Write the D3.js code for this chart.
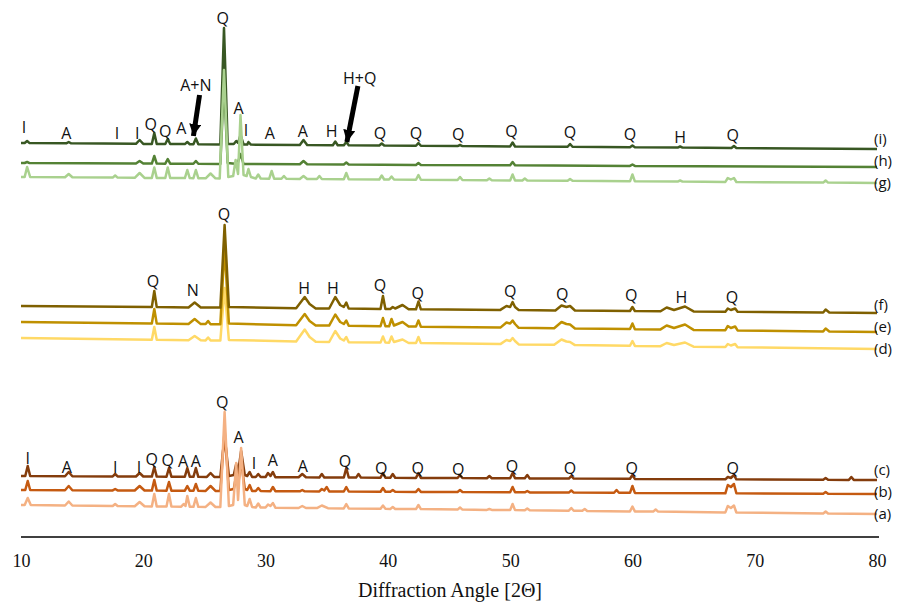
<!DOCTYPE html>
<html>
<head>
<meta charset="utf-8">
<script src="https://cdn.jsdelivr.net/npm/d3@7/dist/d3.min.js"></script>
<style>
  body { margin: 0; background: #fff; }
  .peak-label { font-family: "Open Sans", sans-serif; font-size: 16px; fill: #111; }
  .trace-label { font-family: "Open Sans", sans-serif; font-size: 15px; fill: #111; }
  .axis text { font-family: "Liberation Serif", "Times New Roman", serif; font-size: 18px; fill: #111; }
  .axis-title { font-family: "Liberation Serif", "Times New Roman", serif; font-size: 20px; fill: #111; }
  .xrd-line { fill: none; stroke-width: 2.5; stroke-linejoin: round; }
</style>
</head>
<body>
<svg class="chart"></svg>
<script>
// XRD patterns, [2-theta, intensity above own baseline]
const traceA = [[10,0],[10.3,0],[10.55,7],[10.8,-0.1],[13.6,-0.5],[13.9,3.5],[14.2,-0.5],[17.5,-1],[17.7,1],[17.9,-1],
  [19.3,-1.2],[19.7,3],[20.1,-1.3],[20.7,-1.4],[20.9,11],[21.1,-1.4],[21.9,-1.5],[22.1,11],[22.3,-1.6],
  [23.1,-1.7],[23.3,1],[23.45,-1],[23.6,9],[23.8,-1.7],[24.1,-1.8],[24.3,7],[24.5,-1.8],[25.1,-1.9],[25.5,2.5],[25.9,-2],
  [26.3,-2],[26.65,93],[27.0,-1],[27.35,0],[27.6,42],[27.75,5],[28.0,57],[28.3,0],[28.5,-1],[28.7,6],[28.9,-2],
  [29.2,-2.5],[29.4,1.5],[29.6,-2.5],[30,-2.6],[30.2,0.5],[30.4,-1],[30.6,2],[30.8,-2.7],[32.7,-3],[33,-1],[33.3,-3],
  [34.2,-3.1],[34.6,-0.5],[35.1,-3.2],[36.4,-3.4],[36.6,1],[36.8,-3.4],[39.4,-3.8],[39.6,-0.5],[39.8,-3.8],
  [40.2,-3.9],[40.4,-2],[40.6,-3.9],[42.3,-4.1],[42.5,0],[42.7,-4.1],[45.7,-4.6],[45.9,-2.5],[46.1,-4.6],
  [48.1,-4.9],[48.3,-4],[48.5,-4.9],[50,-5.1],[50.2,1],[50.4,-5.1],[51.2,-5.3],[51.4,-3.5],[51.6,-5.3],
  [54.8,-5.7],[55,-3],[55.2,-5.8],[55.9,-5.8],[56.1,-4],[56.3,-5.9],[59.8,-6.4],[60,-1.5],[60.2,-6.4],
  [61.7,-6.6],[61.9,-4.5],[62.1,-6.6],[67.6,-7.4],[67.8,-1],[68.05,-3],[68.3,-0.5],[68.5,-7.5],
  [75.6,-8.4],[75.8,-6.5],[76,-8.5],[80,-9]];

const traceB = [[10,0],[10.35,0],[10.55,9],[10.75,0],[13.6,-0.2],[13.9,4],[14.2,-0.2],[17.5,-0.4],[17.7,1],[17.9,-0.4],
  [19.3,-0.5],[19.7,4],[20.1,-0.5],[20.7,-0.6],[20.9,10],[21.1,-0.6],[21.9,-0.7],[22.1,8],[22.3,-0.7],
  [23.4,-0.7],[23.6,4],[23.8,-0.7],[24.1,-0.8],[24.3,6],[24.5,-0.8],[25.1,-0.9],[25.5,4],[25.9,-0.9],
  [26.3,-0.9],[26.65,60],[27.0,0],[27.4,1],[27.6,15],[27.75,4],[28.0,30],[28.3,1],[28.5,0],[28.7,5],[28.9,-1],
  [29.2,-1],[29.4,2],[29.6,-1],[30.4,-1.2],[30.6,3],[30.8,-1.2],[32.8,-1.3],[33,0],[33.2,-1.3],
  [34.4,-1.4],[34.6,1],[34.8,-0.5],[35,3],[35.2,-1.4],[36.4,-1.5],[36.6,3],[36.8,-1.5],[39.4,-1.7],[39.6,2],[39.8,-1.7],
  [40.2,-1.7],[40.4,0],[40.6,-1.7],[42.3,-1.9],[42.5,1],[42.7,-1.9],[45.7,-2],[45.9,0],[46.1,-2],
  [50,-2.3],[50.2,3],[50.4,-2.3],[51.2,-2.3],[51.4,-1],[51.6,-2.4],[54.8,-2.6],[55,-0.5],[55.2,-2.6],
  [58.5,-2.8],[58.7,0],[58.9,-2.8],[59.8,-2.8],[60,4],[60.2,-2.9],[67.6,-3.3],[67.8,5],[68.05,3],[68.3,6],[68.5,-3.3],
  [75.6,-3.7],[75.8,-2],[76,-3.7],[80,-4]];

const traceC = [[10,0],[10.35,0],[10.55,10],[10.75,0],[13.6,-0.2],[13.9,4],[14.2,-0.2],[17.5,-0.4],[17.7,2],[17.9,-0.4],
  [19.4,-0.5],[19.7,3],[20,-0.5],[20.7,-0.6],[20.9,9],[21.1,-0.6],[21.9,-0.7],[22.1,8],[22.3,-0.7],
  [23.4,-0.7],[23.6,8],[23.8,-0.7],[24.1,-0.8],[24.3,8],[24.5,-0.8],[25.2,-0.9],[25.5,3],[25.8,-0.9],
  [26.3,-0.9],[26.65,40],[27.0,0],[27.4,1],[27.6,12],[27.75,3],[28.0,25],[28.3,1],[28.5,0],[28.7,4],[28.9,-1],
  [29.2,-1],[29.4,2],[29.6,-1],[30,-1],[30.2,3],[30.4,0],[30.6,4],[30.8,-1.2],[32.7,-1.3],[33,2],[33.3,-1.3],
  [34.4,-1.4],[34.6,2],[34.8,-1.4],[36.4,-1.5],[36.6,8],[36.8,-1.5],[37.4,-1.6],[37.6,2],[37.8,-1.6],
  [39.4,-1.7],[39.6,3],[39.8,-1.7],[40.2,-1.7],[40.4,2],[40.6,-1.7],[42.3,-1.9],[42.5,3],[42.7,-1.9],
  [45.7,-2],[45.9,1],[46.1,-2],[48.1,-2.2],[48.3,0],[48.5,-2.2],[50,-2.3],[50.2,3],[50.4,-2.3],
  [51.2,-2.3],[51.4,1],[51.6,-2.4],[54.8,-2.6],[55,0],[55.2,-2.6],[59.8,-2.8],[60,1],[60.2,-2.9],
  [67.6,-3.3],[67.8,-1],[68.05,-2],[68.3,1],[68.5,-3.3],[75.6,-3.7],[75.8,-2],[76,-3.7],
  [77.7,-3.9],[77.9,-1],[78.1,-3.9],[80,-4]];

const traceD = [[10,0],[20.7,-1.7],[20.9,11],[21.1,-1.7],[23.7,-2.2],[24.2,2],[24.7,-2.3],[25.1,-2.4],[25.3,0.5],[25.5,-2.4],
  [26.3,-2.6],[26.65,50],[27.0,-2],[32.5,-3.5],[33.2,8.5],[33.6,1],[34.1,-3.8],
  [35.2,-4],[35.7,7],[36.1,-0.5],[36.4,-2.5],[36.6,1],[36.8,-4.2],[39.4,-4.6],[39.6,1.5],[39.8,-4.6],
  [40.1,-4.7],[40.3,1.5],[40.5,-4],[41.2,-1.5],[41.7,-5],[42.3,-5.1],[42.5,1],[42.7,-5.1],
  [49.2,-6.1],[49.7,-2],[50,-3],[50.2,0],[50.4,-3],[50.7,-6.4],[53.6,-6.8],[54.2,-1.5],[54.6,-3.5],[54.9,-4],[55.3,-7.1],
  [59.8,-7.8],[60,-3],[60.2,-7.9],[62.3,-8.2],[62.8,-5],[63.4,-7],[64.3,-4.5],[65,-8.7],
  [67.6,-9],[67.8,-6],[68.05,-7.5],[68.4,-6],[68.6,-9.2],[80,-11]];

const traceE = [[10,0],[20.7,-1.5],[20.9,13],[21.1,-1.6],[23.7,-2],[24.2,3],[24.7,-2.1],[25.1,-2.1],[25.3,1],[25.5,-2.2],
  [26.3,-2.3],[26.65,75],[27.0,-1.5],[32.5,-3.2],[33.2,8],[33.6,1],[34.1,-3.4],
  [35.2,-3.6],[35.7,7.5],[36.1,0],[36.4,-2],[36.6,1.5],[36.8,-3.8],[39.4,-4.2],[39.6,4],[39.8,-4.2],
  [40.1,-4.3],[40.3,3],[40.5,-3.5],[41.2,0],[41.7,-4.5],[42.3,-4.6],[42.5,1.5],[42.7,-4.7],
  [49.2,-5.6],[49.7,-0.5],[50,-1.5],[50.2,1.5],[50.4,-2],[50.7,-5.8],[53.6,-6.2],[54.2,0],[54.6,-2],[54.9,-2.5],[55.3,-6.5],
  [59.8,-7.1],[60,-1.5],[60.2,-7.2],[62.3,-7.4],[62.8,-3.5],[63.4,-6],[64.3,-2.5],[65,-7.9],
  [67.6,-8.2],[67.8,-4],[68.05,-6],[68.4,-4.5],[68.6,-8.4],[75.6,-9.4],[75.8,-6.5],[76.1,-9.4],[80,-10]];

const traceF = [[10,0],[20.7,-1],[20.9,15],[21.1,-1.1],[23.7,-1.4],[24.2,3.5],[24.7,-1.5],
  [26.3,-1.6],[26.65,81],[27.0,-1],[32.5,-2.2],[33.2,9],[33.6,2],[34.1,-2.4],
  [35.2,-2.5],[35.7,9],[36.1,1],[36.4,-1],[36.6,3.5],[36.8,-2.6],[39.4,-2.9],[39.6,10],[39.8,-3],
  [40.2,-3],[40.4,-1],[40.6,-2.5],[41.2,1],[41.7,-3.2],[42.3,-3.3],[42.5,4.5],[42.7,-3.3],
  [49.2,-3.9],[49.7,0],[50,-1],[50.2,4],[50.4,-1],[50.7,-4],[53.7,-4.4],[54.2,0.5],[54.6,-1],[54.9,0],[55.3,-4.5],
  [59.8,-5],[60,-1],[60.2,-5],[62.3,-5.2],[62.8,-1.5],[63.4,-4],[64.3,-0.5],[65,-5.4],
  [67.6,-5.8],[67.8,-2.5],[68.05,-4],[68.4,-2.5],[68.6,-5.8],[75.6,-6.5],[75.8,-3.5],[76.1,-6.5],[80,-7]];

const traceG = [[10,0],[10.3,0],[10.5,10],[10.75,0],[13.6,-0.3],[13.9,3],[14.2,-0.3],[17.5,-0.6],[17.7,1.5],[17.9,-0.6],
  [19.3,-0.8],[19.7,4],[20.1,-0.9],[20.7,-0.9],[20.9,9.5],[21.1,-0.9],[21.8,-1],[22.0,9.5],[22.2,-1],
  [23.4,-1.1],[23.6,7],[23.8,-1.1],[24.1,-1.2],[24.3,7],[24.5,-1.2],[25.1,-1.3],[25.5,3.5],[25.9,-1.3],
  [26.25,-1.4],[26.6,107],[26.95,0],[27.35,1],[27.55,17],[27.75,3],[27.95,62],[28.2,2],[28.45,1],[28.6,8],[28.8,0],
  [29.2,-1.5],[29.4,2.5],[29.6,-1.5],[30.3,-1.7],[30.5,6],[30.7,-1.7],[31.3,-1.8],[31.5,1],[31.7,-1.8],
  [32.8,-1.9],[33.1,1],[33.4,-2],[34.2,-2],[34.4,1],[34.6,-2],[36.4,-2.3],[36.6,4],[36.8,-2.3],
  [39.3,-2.5],[39.5,1.5],[39.7,-2.5],[40.1,-2.6],[40.3,0.5],[40.5,-2.6],[42.3,-2.8],[42.5,2],[42.7,-2.8],
  [45.7,-3.1],[45.9,0],[46.1,-3.1],[48.1,-3.2],[48.3,-1.5],[48.5,-3.3],[50,-3.4],[50.2,2.5],[50.4,-3.5],
  [51,-3.5],[51.2,-1.5],[51.4,-3.5],[54.7,-3.8],[54.9,-2],[55.1,-3.8],[59.8,-4.3],[60,2.5],[60.2,-4.3],
  [63.7,-4.6],[63.9,-3.5],[64.1,-4.6],[67.6,-4.9],[67.8,-1],[68.05,-2.5],[68.3,-1],[68.5,-5],
  [75.6,-5.6],[75.8,-3.5],[76,-5.6],[80,-6]];

const traceH = [[10,0],[10.3,0],[10.5,1],[10.7,-0.1],[19.4,-0.5],[19.7,2],[20,-0.6],[20.7,-0.6],[20.9,7],[21.1,-0.6],
  [21.8,-0.7],[22.0,4],[22.2,-0.7],[24.1,-0.8],[24.3,2],[24.5,-0.8],[26.3,-0.9],[26.6,80],[26.9,0],
  [27.7,-1],[27.95,9],[28.2,-1],[32.8,-1.3],[33.1,2],[33.4,-1.3],[36.4,-1.5],[36.6,0.5],[36.8,-1.5],
  [42.3,-1.9],[42.5,0],[42.7,-1.9],[50,-2.3],[50.2,1],[50.4,-2.3],[59.8,-2.9],[60,-1.5],[60.2,-2.9],[80,-4]];

const traceI = [[10,0],[10.3,0],[10.5,2],[10.7,-0.1],[13.7,-0.3],[13.9,1],[14.1,-0.3],[19.4,-0.8],[19.7,3],[20,-0.9],
  [20.7,-0.9],[20.9,10],[21.1,-0.9],[21.8,-1],[22.0,4],[22.2,-1],[23.4,-1.1],[23.6,1],[23.8,-1.2],
  [24.1,-1.2],[24.3,4.5],[24.5,-1.2],[26.3,-1.4],[26.6,115],[26.9,-1],[27.4,-1],[27.6,2],[27.75,0],[27.95,8],[28.2,-1.5],
  [28.5,-1.6],[28.6,1],[28.8,-1.6],[32.8,-2],[33.1,3],[33.4,-2],[35.5,-2.2],[35.7,1.5],[35.9,-2.2],
  [36.4,-2.3],[36.6,1],[36.8,-2.3],[39.3,-2.5],[39.5,-0.5],[39.7,-2.5],[42.3,-2.8],[42.5,0],[42.7,-2.8],
  [45.7,-3.1],[45.9,-2],[46.1,-3.1],[50,-3.4],[50.2,0.5],[50.4,-3.5],[54.7,-3.8],[54.9,-1],[55.1,-3.8],
  [59.8,-4.3],[60,-2.5],[60.2,-4.3],[63.7,-4.6],[63.9,-3.5],[64.1,-4.6],[68.1,-5],[68.3,-3],[68.5,-5],[80,-6]];

// drawing order matters at the big Q peaks
const traceNames = ['c', 'b', 'a', 'd', 'e', 'f', 'i', 'h', 'g'];
const traceData = { a: traceA, b: traceB, c: traceC, d: traceD, e: traceE, f: traceF, g: traceG, h: traceH, i: traceI };
const traceOffsets = { a: 32, b: 47, c: 61, d: 199, e: 215, f: 231, g: 360, h: 374, i: 394 };
const traceColors = { a: '#F4B183', b: '#C55A11', c: '#843C0C', d: '#FFD966', e: '#BF9000', f: '#7F6000',
  g: '#A9D18E', h: '#548235', i: '#385723' };
const traceLabelLevels = { a: 18, b: 40, c: 62, d: 183, e: 205, f: 227, g: 349, h: 371, i: 393 };

// phase labels: [text, 2-theta, level]
const labelsTop = [['I',10.25,404],['A',13.7,398],['I',17.85,398],['I',19.5,398],['Q',20.6,407],['Q',21.8,400],
  ['A',23.1,403],['A+N',24.3,446],['Q',26.5,513],['A',27.8,423],['I',28.4,401],['A',30.35,398],['A',33.05,400],
  ['H',35.4,400],['H+Q',37.7,453],['Q',39.35,398],['Q',42.3,398],['Q',45.75,397],['Q',50.1,400],['Q',54.9,399],
  ['Q',59.8,397],['H',63.9,394],['Q',68.2,396]];
const labelsMid = [['Q',20.8,250],['N',24.05,241],['Q',26.6,317],['H',33.15,243],['H',35.5,243],['Q',39.35,246],
  ['Q',42.45,238],['Q',50.0,240],['Q',54.25,237],['Q',59.9,236],['H',64.0,234],['Q',68.15,234]];
const labelsLow = [['I',10.55,73],['A',13.75,64],['I',17.7,64],['I',19.65,64],['Q',20.7,72],['Q',22.0,71],
  ['A',23.25,70],['A',24.3,70],['Q',26.45,129],['A',27.8,94],['I',29.05,68],['A',30.6,71],['A',33.05,65],
  ['Q',36.5,70],['Q',39.45,63],['Q',42.45,63],['Q',45.75,62],['Q',50.15,65],['Q',54.9,63],['Q',59.95,63],['Q',68.2,63]];

// arrows: [from, to(tip)]
const arrows = [[[24.6, 442], [24.1, 401]], [[37.55, 451], [36.65, 395]]];
const xTicks = [10, 20, 30, 40, 50, 60, 70, 80];

const svgWidth = 902;
const svgHeight = 602;
const svg = d3.select('.chart')
  .attr('width', svgWidth)
  .attr('height', svgHeight);

const xScale = d3.scaleLinear().domain([10, 80]).range([21, 877]);
const yScale = d3.scaleLinear().domain([0, 520]).range([537, 17]);

// x axis (labels only, baseline drawn separately)
const xAxis = svg.append('g')
  .attr('class', 'axis')
  .attr('transform', 'translate(0, 537)')
  .call(d3.axisBottom(xScale).tickValues(xTicks).tickSize(0).tickSizeOuter(0).tickPadding(17));
xAxis.select('.domain').remove();

svg.append('line')
  .attr('x1', xScale(10))
  .attr('x2', xScale(80) + 2)
  .attr('y1', yScale(0))
  .attr('y2', yScale(0))
  .attr('stroke', '#000')
  .attr('stroke-width', 1.6);

svg.append('text')
  .attr('class', 'axis-title')
  .attr('x', 450)
  .attr('y', 597)
  .attr('text-anchor', 'middle')
  .text('Diffraction Angle [2\u0398]');

// patterns
traceNames.forEach(name => {
  const line = d3.line()
    .x(d => xScale(d[0]))
    .y(d => yScale(d[1] + traceOffsets[name]));
  svg.append('path')
    .datum(traceData[name])
    .attr('class', 'xrd-line')
    .attr('stroke', traceColors[name])
    .attr('d', line);
  svg.append('text')
    .attr('class', 'trace-label')
    .attr('x', xScale(80) - 3)
    .attr('y', yScale(traceLabelLevels[name]))
    .text('(' + name + ')');
});

// phase labels
[labelsTop, labelsMid, labelsLow].forEach(set => {
  svg.selectAll(null)
    .data(set)
    .enter()
    .append('text')
    .attr('class', 'peak-label')
    .attr('x', d => xScale(d[1]))
    .attr('y', d => yScale(d[2]))
    .attr('text-anchor', 'middle')
    .text(d => d[0]);
});

// arrows
svg.append('defs').append('marker')
  .attr('id', 'head')
  .attr('markerUnits', 'userSpaceOnUse')
  .attr('viewBox', '0 0 12 12')
  .attr('refX', 12)
  .attr('refY', 6)
  .attr('markerWidth', 12)
  .attr('markerHeight', 12)
  .attr('orient', 'auto')
  .append('path')
  .attr('d', 'M0,0 L12,6 L0,12 Z')
  .attr('fill', '#000');

svg.selectAll(null)
  .data(arrows)
  .enter()
  .append('line')
  .attr('x1', d => xScale(d[0][0]))
  .attr('y1', d => yScale(d[0][1]))
  .attr('x2', d => xScale(d[1][0]))
  .attr('y2', d => yScale(d[1][1]))
  .attr('stroke', '#000')
  .attr('stroke-width', 5)
  .attr('marker-end', 'url(#head)');
</script>
</body>
</html>
